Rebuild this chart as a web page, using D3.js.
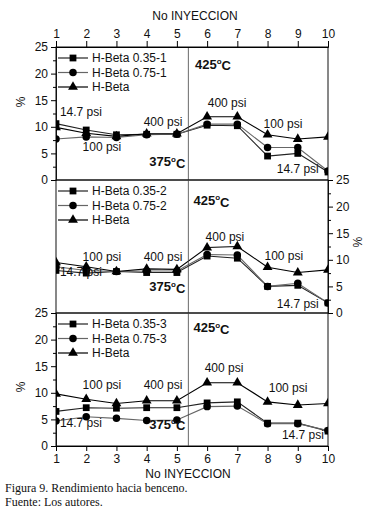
<!DOCTYPE html>
<html>
<head>
<meta charset="utf-8">
<script src="https://cdn.jsdelivr.net/npm/d3@7"></script>
<style>
  body { margin: 0; background: #fff; }
  text { font-family: Arial, "Liberation Sans", sans-serif; fill: #111; }
  .caption { font-family: "Times New Roman", "Liberation Serif", serif; font-size: 12px; }
</style>
</head>
<body>
<div id="root"></div>
<script>
var injections = [1, 2, 3, 4, 5, 6, 7, 8, 9, 10];
var yTicks = [0, 5, 10, 15, 20, 25];
var yMinorTicks = [2.5, 7.5, 12.5, 17.5, 22.5];

// panel 1
var p1Square = [10.6, 9.4, 8.5, 8.6, 8.6, 10.3, 10.2, 4.5, 5.0, 1.5];
var p1Circle = [7.7, 8.1, 8.0, 8.5, 8.6, 10.5, 10.5, 6.1, 6.1, 1.7];
var p1Triangle = [9.9, 8.8, 8.2, 8.7, 8.7, 11.9, 11.9, 8.5, 7.7, 8.1];
// panel 2
var p2Square = [8.0, 7.5, 7.8, 7.6, 7.6, 10.7, 10.3, 5.0, 5.2, 1.9];
var p2Circle = [8.7, 8.0, 7.8, 7.9, 7.9, 11.0, 10.9, 5.0, 5.6, 1.9];
var p2Triangle = [9.5, 8.7, 7.8, 8.3, 8.2, 12.3, 12.5, 8.6, 7.6, 8.1];
// panel 3
var p3Square = [6.5, 7.2, 7.1, 7.2, 7.2, 8.1, 8.3, 4.3, 4.3, 2.8];
var p3Circle = [4.7, 5.5, 5.2, 4.8, 4.9, 7.4, 7.5, 4.2, 4.2, 2.9];
var p3Triangle = [9.8, 8.8, 8.0, 8.5, 8.5, 11.9, 11.9, 8.3, 7.7, 8.0];

var legend1 = ['H-Beta 0.35-1', 'H-Beta 0.75-1', 'H-Beta'];
var legend2 = ['H-Beta 0.35-2', 'H-Beta 0.75-2', 'H-Beta'];
var legend3 = ['H-Beta 0.35-3', 'H-Beta 0.75-3', 'H-Beta'];

// annotations: [x, y, text, anchor]
var notes1 = [[1.13, 12.8, '14.7 psi', 'start'], [2.52, 6.2, '100 psi', 'middle'], [4.54, 10.9, '400 psi', 'middle'],
  [6.66, 14.5, '400 psi', 'middle'], [8.51, 10.5, '100 psi', 'middle'], [9.0, 2.1, '14.7 psi', 'middle']];
var notes2 = [[1.13, 7.7, '14.7 psi', 'start'], [2.52, 10.5, '100 psi', 'middle'], [4.54, 10.5, '400 psi', 'middle'],
  [6.59, 14.3, '400 psi', 'middle'], [8.54, 10.7, '100 psi', 'middle'], [9.0, 1.7, '14.7 psi', 'middle']];
var notes3 = [[1.13, 4.3, '14.7 psi', 'start'], [2.52, 11.5, '100 psi', 'middle'], [4.54, 11.5, '400 psi', 'middle'],
  [6.56, 14.7, '400 psi', 'middle'], [8.68, 10.9, '100 psi', 'middle'], [9.17, 2.1, '14.7 psi', 'middle']];
var temps1 = [[5.28, 3.4, '375'], [5.6, 21.8, '425']];
var temps2 = [[5.28, 4.9, '375'], [5.55, 21.1, '425']];
var temps3 = [[5.28, 4.1, '375'], [5.55, 22.2, '425']];
var dividerX = 5.38;

var width = 369, height = 512;
var left = 56, right = 328, panelH = 133;
var panelTops = [47, 180, 313];

var svg = d3.select('#root')
  .append('svg')
    .attr('width', width)
    .attr('height', height);

var xScale = d3.scaleLinear()
  .domain([1, 10])
  .range([left, right]);

var panels = [
  { top: panelTops[0], sq: p1Square, ci: p1Circle, tr: p1Triangle, legend: legend1, notes: notes1, temps: temps1, axis: 'left', labelY: 102 },
  { top: panelTops[1], sq: p2Square, ci: p2Circle, tr: p2Triangle, legend: legend2, notes: notes2, temps: temps2, axis: 'right', labelY: 242 },
  { top: panelTops[2], sq: p3Square, ci: p3Circle, tr: p3Triangle, legend: legend3, notes: notes3, temps: temps3, axis: 'left', labelY: 387 }
];

var square = d3.symbol().type(d3.symbolSquare).size(46);
var circle = d3.symbol().type(d3.symbolCircle).size(44);
var triangle = d3.symbol().type(d3.symbolTriangle).size(42);

panels.forEach((p, i) => {
  var yScale = d3.scaleLinear()
    .domain([0, 25])
    .range([p.top + panelH, p.top]);

  var clipId = 'clip' + i;
  svg.append('clipPath')
    .attr('id', clipId)
    .append('rect')
      .attr('x', left)
      .attr('y', p.top)
      .attr('width', right - left)
      .attr('height', panelH);

  // frame
  svg.append('rect')
    .attr('x', left)
    .attr('y', p.top)
    .attr('width', right - left)
    .attr('height', panelH)
    .attr('fill', 'none')
    .attr('stroke', '#111')
    .attr('stroke-width', 1);

  // y axis
  var isLeft = p.axis === 'left';
  var axisX = isLeft ? left : right;
  var yAxisCall = (isLeft ? d3.axisLeft(yScale) : d3.axisRight(yScale))
    .tickValues(yTicks)
    .tickSize(5)
    .tickPadding(3);
  var yg = svg.append('g')
    .attr('class', 'y-axis')
    .attr('transform', 'translate(' + axisX + ', 0)')
    .call(yAxisCall);
  yg.selectAll('text').attr('font-size', '12px').attr('font-family', null);
  yg.select('.domain').attr('stroke', '#111');

  var yMinorCall = (isLeft ? d3.axisLeft(yScale) : d3.axisRight(yScale))
    .tickValues(yMinorTicks)
    .tickSize(3)
    .tickFormat('');
  svg.append('g')
    .attr('transform', 'translate(' + axisX + ', 0)')
    .call(yMinorCall)
    .select('.domain').remove();

  svg.append('text')
    .attr('x', 0)
    .attr('y', 0)
    .attr('font-size', '12px')
    .attr('text-anchor', 'middle')
    .attr('transform', isLeft
      ? 'translate(25, ' + p.labelY + ') rotate(-90)'
      : 'translate(353, ' + p.labelY + ') rotate(90)')
    .text('%');

  // lines
  var plot = svg.append('g').attr('clip-path', 'url(#' + clipId + ')');
  var series = [
    { values: p.sq, color: '#222', sym: square },
    { values: p.ci, color: '#666', sym: circle },
    { values: p.tr, color: '#000', sym: triangle }
  ];
  var line = d3.line()
    .x((d, j) => xScale(injections[j]))
    .y(d => yScale(d));

  series.forEach(s => {
    plot.append('path')
      .attr('d', line(s.values))
      .attr('fill', 'none')
      .attr('stroke', '#fff')
      .attr('stroke-width', 3);
  });
  series.forEach(s => {
    plot.append('path')
      .attr('d', line(s.values))
      .attr('fill', 'none')
      .attr('stroke', s.color)
      .attr('stroke-width', 1.1);
  });
  series.forEach(s => {
    plot.selectAll(null)
      .data(s.values)
      .enter()
      .append('path')
        .attr('d', s.sym)
        .attr('transform', (d, j) => 'translate(' + xScale(injections[j]) + ', ' + yScale(d) + ')')
        .attr('fill', '#000');
  });

  // divider
  svg.append('line')
    .attr('x1', xScale(dividerX))
    .attr('x2', xScale(dividerX))
    .attr('y1', p.top)
    .attr('y2', p.top + panelH)
    .attr('stroke', '#444')
    .attr('stroke-width', 0.8);

  // legend
  p.legend.forEach((name, k) => {
    var ly = p.top + 11 + k * 14.5;
    var s = series[k];
    svg.append('line')
      .attr('x1', 58)
      .attr('x2', 88)
      .attr('y1', ly)
      .attr('y2', ly)
      .attr('stroke', s.color)
      .attr('stroke-width', 1.2);
    svg.append('path')
      .attr('d', s.sym)
      .attr('transform', 'translate(73, ' + ly + ')')
      .attr('fill', '#000');
    svg.append('text')
      .attr('x', 92)
      .attr('y', ly)
      .attr('dy', '0.35em')
      .attr('font-size', '12px')
      .text(name);
  });

  // annotations
  p.notes.forEach(n => {
    svg.append('text')
      .attr('x', xScale(n[0]))
      .attr('y', yScale(n[1]))
      .attr('dy', '0.35em')
      .attr('font-size', '12px')
      .attr('text-anchor', n[3])
      .text(n[2]);
  });
  p.temps.forEach((t, k) => {
    var txt = svg.append('text')
      .attr('x', xScale(t[0]))
      .attr('y', yScale(t[1]))
      .attr('dy', '0.35em')
      .attr('font-size', '13px')
      .attr('font-weight', 'bold')
      .attr('text-anchor', k === 0 ? 'end' : 'start');
    txt.append('tspan').text(t[2]);
    txt.append('tspan').attr('font-size', '8px').attr('dy', '-0.6em').text('o');
    txt.append('tspan').attr('dy', '0.5em').text('C');
  });
});

// x axes
var topCall = d3.axisTop(xScale).tickValues(injections).tickSize(6).tickPadding(3);
var tg = svg.append('g')
  .attr('transform', 'translate(0, ' + panelTops[0] + ')')
  .call(topCall);
tg.selectAll('text').attr('font-size', '12px').attr('font-family', null);

var bottomCall = d3.axisBottom(xScale).tickValues(injections).tickSize(5).tickPadding(3);
var bg = svg.append('g')
  .attr('transform', 'translate(0, ' + (panelTops[2] + panelH) + ')')
  .call(bottomCall);
bg.selectAll('text').attr('font-size', '12px').attr('font-family', null);

svg.append('text')
  .attr('x', 195)
  .attr('y', 20)
  .attr('font-size', '12px')
  .attr('text-anchor', 'middle')
  .text('No INYECCION');

svg.append('text')
  .attr('x', 188)
  .attr('y', 478)
  .attr('font-size', '12px')
  .attr('text-anchor', 'middle')
  .text('No INYECCION');

svg.append('text')
  .attr('class', 'caption')
  .attr('x', 5)
  .attr('y', 492)
  .text('Figura 9. Rendimiento hacia benceno.');

svg.append('text')
  .attr('class', 'caption')
  .attr('x', 5)
  .attr('y', 506)
  .text('Fuente: Los autores.');
</script>
</body>
</html>
